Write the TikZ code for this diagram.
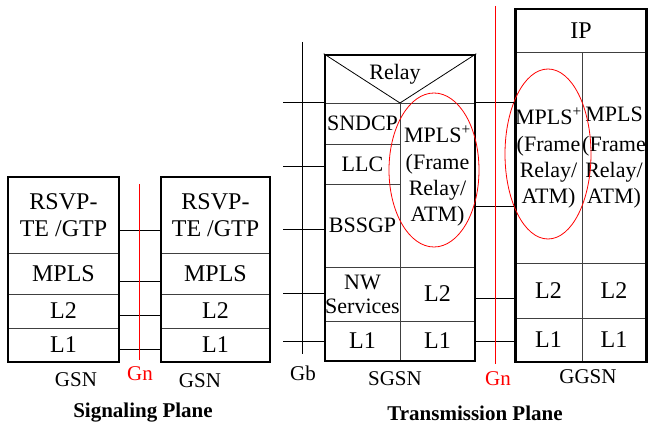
\documentclass[tikz,border=0pt]{standalone}
\usepackage{fontspec}
\setmainfont{LiberationSerif}[Extension=.ttf,UprightFont=*-Regular,BoldFont=*-Bold,ItalicFont=*-Italic,BoldItalicFont=*-BoldItalic]
\usetikzlibrary{shapes.geometric}
\begin{document}
\begin{tikzpicture}[x=1pt,y=-1pt,
  cell/.style={draw=black!75,line width=0.8pt,inner sep=0pt,align=center,font=\fontsize{24}{28}\selectfont},
  scell/.style={cell,font=\fontsize{22}{28}\selectfont},
  outer/.style={draw=black,line width=2.6pt,inner sep=0pt,fill=none},
  link/.style={draw=black,line width=0.8pt},
  gn/.style={draw=red,line width=0.9pt},
  oval/.style={draw=red,line width=0.8pt},
  lbl/.style={font=\fontsize{21}{24}\selectfont,inner sep=0pt},
  title/.style={font=\fontsize{21}{24}\selectfont\bfseries,inner sep=0pt}]
\useasboundingbox (0,0) rectangle (649,425);
\fill[white] (0,0) rectangle (649,425);

% ---------- Signaling plane ----------
% left GSN
\node[cell,minimum width=111,minimum height=76] (rsvpA) at (63.5,215) {RSVP-\\[-1pt]TE /GTP};
\node[cell,minimum width=111,minimum height=41] (mplsA) at (63.5,273.5) {MPLS};
\node[cell,minimum width=111,minimum height=34] (l2A) at (63.5,311) {L2};
\node[cell,minimum width=111,minimum height=34] (l1A) at (63.5,345) {L1};
\node[outer,minimum width=111,minimum height=185] (gsnA) at (63.5,269.5) {};
% right GSN
\node[cell,minimum width=109,minimum height=76] (rsvpB) at (215.5,215) {RSVP-\\[-1pt]TE /GTP};
\node[cell,minimum width=109,minimum height=41] (mplsB) at (215.5,273.5) {MPLS};
\node[cell,minimum width=109,minimum height=34] (l2B) at (215.5,311) {L2};
\node[cell,minimum width=109,minimum height=34] (l1B) at (215.5,345) {L1};
\node[outer,minimum width=109,minimum height=185] (gsnB) at (215.5,269.5) {};

\coordinate (s1) at (0,230);
\coordinate (s2) at (0,281);
\coordinate (s3) at (0,315);
\coordinate (s4) at (0,349);
\foreach \c in {s1,s2,s3,s4}
  \draw[link] (gsnA.east |- \c) -- (gsnB.west |- \c);

\coordinate (gnAt) at (139,184);
\coordinate (gnAb) at (139,360);
\draw[gn] (gnAt) -- (gnAb);

\node[lbl] (lgsnA) at (76,380) {GSN};
\node[lbl,text=red] (lgnA) at (140,374) {Gn};
\node[lbl] (lgsnB) at (200,381) {GSN};
\node[title] (tsig) at (143,413) {Signaling Plane};

% ---------- Transmission plane: SGSN ----------
\node[scell,minimum width=75,minimum height=41] (sndcp) at (362.5,123.5) {SNDCP};
\node[scell,minimum width=75,minimum height=40] (llc) at (362.5,164) {LLC};
\node[scell,minimum width=75,minimum height=83] (bssgp) at (362.5,225.5) {BSSGP};
\node[scell,minimum width=75,minimum height=54] (nws) at (362.5,294) {NW\\[-4pt]Services};
\node[scell,minimum width=75,minimum height=40] (l1S) at (362.5,341) {\fontsize{24}{28}\selectfont L1};
\node[scell,minimum width=75,minimum height=164] (mplsS) at (437.5,185) {};
\node[scell,minimum width=75,minimum height=54] (l2S) at (437.5,294) {\fontsize{24}{28}\selectfont L2};
\node[scell,minimum width=75,minimum height=40] (l1S2) at (437.5,341) {\fontsize{24}{28}\selectfont L1};
\node[scell,draw=none] (mplsSt) at (437.5,176) {MPLS\textsuperscript{+}\\[-1pt](Frame\\[-2pt]Relay/\\[-2pt]ATM)};
\coordinate (rtop) at (400,103);
\node[outer,minimum width=150,minimum height=306] (sgsn) at (400,208) {};
\draw[line width=0.8pt] (sgsn.north west) -- (rtop) -- (sgsn.north east);
\node[scell,draw=none] (relay) at (395,74) {Relay};
\node[oval,ellipse,minimum width=90,minimum height=154] (ovS) at (434,170) {};

% Gb side
\coordinate (gbt) at (302,42);
\coordinate (gbb) at (302,354);
\draw[link] (gbt) -- (gbb);
\coordinate (b0) at (283,102);
\coordinate (b1) at (283,166);
\coordinate (b2) at (283,229);
\coordinate (b3) at (283,293);
\coordinate (b4) at (283,341);
\foreach \c in {b0,b1,b2,b3,b4}
  \draw[link] (\c) -- (sgsn.west |- \c);
\node[lbl] (lgb) at (303,373) {Gb};
\node[lbl] (lsgsn) at (395,379) {SGSN};

% ---------- GGSN ----------
\node[scell,minimum width=131,minimum height=43] (ip) at (581,30.5) {\fontsize{24}{28}\selectfont IP};
\node[scell,minimum width=67,minimum height=211] (mplsG1) at (548.5,157.5) {};
\node[scell,minimum width=64,minimum height=211] (mplsG2) at (614,157.5) {};
\node[scell,draw=none] (mplsG1t) at (548.5,158) {MPLS\textsuperscript{+}\\[-1pt](Frame\\[-2pt]Relay/\\[-2pt]ATM)};
\node[scell,draw=none] (mplsG2t) at (614,158) {MPLS\\[2pt](Frame\\[-2pt]Relay/\\[-2pt]ATM)};
\node[cell,minimum width=67,minimum height=55] (l2G1) at (548.5,290.5) {L2};
\node[cell,minimum width=64,minimum height=55] (l2G2) at (614,290.5) {L2};
\node[cell,minimum width=67,minimum height=44] (l1G1) at (548.5,340) {L1};
\node[cell,minimum width=64,minimum height=44] (l1G2) at (614,340) {L1};
\node[outer,minimum width=131,minimum height=353] (ggsn) at (581,185.5) {};
\node[oval,ellipse,minimum width=86,minimum height=170] (ovG) at (548,154) {};

\coordinate (g1) at (0,102);
\coordinate (g2) at (0,206);
\coordinate (g3) at (0,298);
\coordinate (g4) at (0,341);
\foreach \c in {g1,g2,g3,g4}
  \draw[link] (sgsn.east |- \c) -- (ggsn.west |- \c);

\coordinate (gnBt) at (495,6);
\coordinate (gnBb) at (495,364);
\draw[gn] (gnBt) -- (gnBb);
\node[lbl,text=red] (lgnB) at (498,379) {Gn};
\node[lbl] (lggsn) at (588,377) {GGSN};
\node[title] (ttr) at (475,413) {Transmission Plane};
\end{tikzpicture}
\end{document}
